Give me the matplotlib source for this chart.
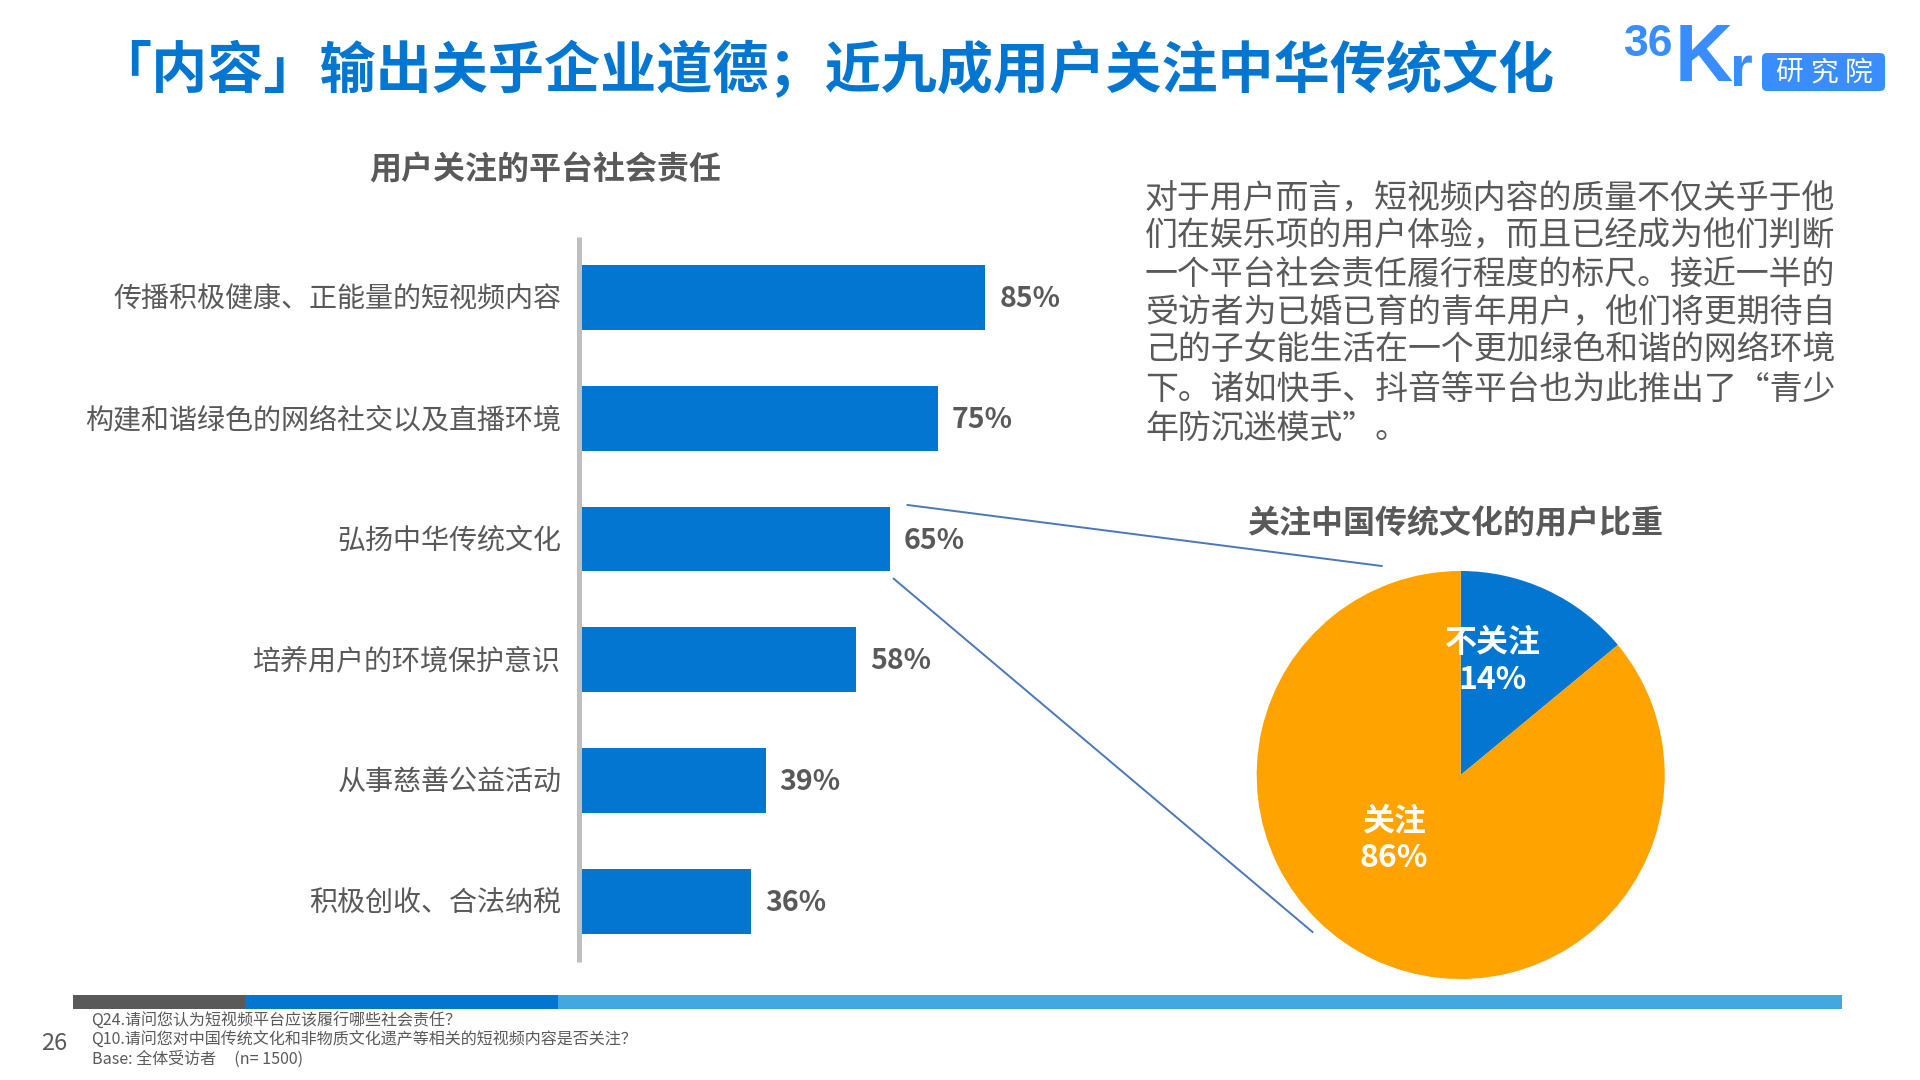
import matplotlib.pyplot as plt
from matplotlib.lines import Line2D
from matplotlib.patches import FancyBboxPatch, Rectangle
from matplotlib.transforms import ScaledTranslation

plt.rcParams['font.family'] = ['Noto Sans CJK SC', 'DejaVu Sans']

W, H = 1920, 1080

# data
categories = ['传播积极健康、正能量的短视频内容', '构建和谐绿色的网络社交以及直播环境', '弘扬中华传统文化',
              '培养用户的环境保护意识', '从事慈善公益活动', '积极创收、合法纳税']
values = [85, 75, 65, 58, 39, 36]

pie_names = ['不关注', '关注']
pie_values = [14, 86]

title = '「内容」输出关乎企业道德\uff1b近九成用户关注中华传统文化'
bar_title = '用户关注的平台社会责任'
pie_title = '关注中国传统文化的用户比重'
paragraph = ['对于用户而言\uff0c短视频内容的质量不仅关乎于他',
             '们在娱乐项的用户体验\uff0c而且已经成为他们判断',
             '一个平台社会责任履行程度的标尺。接近一半的',
             '受访者为已婚已育的青年用户\uff0c他们将更期待自',
             '己的子女能生活在一个更加绿色和谐的网络环境',
             '下。诸如快手、抖音等平台也为此推出了“青少',
             '年防沉迷模式”。']
footnotes = ['Q24.请问您认为短视频平台应该履行哪些社会责任\uff1f',
             'Q10.请问您对中国传统文化和非物质文化遗产等相关的短视频内容是否关注\uff1f',
             'Base: 全体受访者     (n= 1500)']
page_number = '26'
logo_name = '研究院'

BLUE = '#0276D1'
ORANGE = '#FFA300'
GREY = '#595959'
LOGO = '#3A8DFF'
NARROW = ['Liberation Sans Narrow', 'Liberation Sans', 'DejaVu Sans']


def fx(x):
    return x / W


def fy(y):
    return 1 - y / H


def px_axes(left, top, right, bottom):
    return fig.add_axes([fx(left), fy(bottom), (right - left) / W, (bottom - top) / H])


def label(x, y, s, size, color=GREY, ha='center', weight='normal', **kw):
    # va='center' sits about 3px high for these fonts
    return fig.text(fx(x), fy(y + 3), s, fontsize=size, color=color, ha=ha, va='center', fontweight=weight, **kw)


def strip(x0, x1, y0, y1, color):
    fig.add_artist(Rectangle((fx(x0), fy(y1)), (x1 - x0) / W, (y1 - y0) / H, transform=fig.transFigure,
                             facecolor=color, edgecolor='none'))


fig = plt.figure(figsize=(W / 100, H / 100), dpi=100, facecolor='white')

# bar chart
ax = px_axes(579.4, 237, 1057, 961.8)
ax.barh(range(len(values)), values, height=0.538, color=BLUE)
ax.set_xlim(0, 100)
ax.set_ylim(len(values) - 0.5, -0.5)
ax.patch.set_alpha(0)
for side in ['top', 'right', 'bottom']:
    ax.spines[side].set_visible(False)
ax.spines['left'].set_color('#BFBFBF')
ax.spines['left'].set_linewidth(3.6)
ax.spines['left'].set_capstyle('butt')
ax.set_xticks([])
ax.set_yticks(range(len(values)))
ax.set_yticklabels(categories, fontsize=20.2, color=GREY)
ax.tick_params(axis='y', length=0, pad=13)
shift_up = ScaledTranslation(0, 1.5 / 100, fig.dpi_scale_trans)
for t in ax.get_yticklabels():
    t.set_transform(t.get_transform() + shift_up)
for i, v in enumerate(values):
    ax.annotate(f'{v}%', (v, i), xytext=(10, -1.2), textcoords='offset points', va='center', ha='left',
                fontsize=20.5, fontweight='bold', color=GREY)

# pie chart
ax2 = px_axes(1460.7 - 204, 775 - 204, 1460.7 + 204, 775 + 204)
ax2.pie(pie_values, colors=[BLUE, ORANGE], startangle=90, counterclock=False, radius=1,
        wedgeprops={'clip_on': False, 'linewidth': 0})
ax2.set_xlim(-1, 1)
ax2.set_ylim(-1, 1)

label(1492.5, 640, pie_names[0], 23, 'white', weight='bold')
label(1492.5, 677, f'{pie_values[0]}%', 23, 'white', weight='bold')
label(1394, 818, pie_names[1], 23, 'white', weight='bold')
label(1394, 855, f'{pie_values[1]}%', 23, 'white', weight='bold')

# lines from the 65% bar to the pie
for (x0, y0, x1, y1) in [(907.6, 505, 1381.7, 566), (893.7, 578.7, 1312.5, 932)]:
    fig.add_artist(Line2D([fx(x0), fx(x1)], [fy(y0), fy(y1)], color='#4A78B8', linewidth=1.4))

# titles and text
label(95, 68, title, 40.4, BLUE, ha='left', weight='bold')
label(545, 167, bar_title, 23, weight='bold')
label(1455, 521, pie_title, 23, weight='bold')
line_y = [195, 233.3, 271.7, 310, 348.3, 386.7, 426]
for line, y in zip(paragraph, line_y):
    label(1145, y, line, 23.7, ha='left')

# bottom strip
strip(73, 245, 995, 1009, GREY)
strip(245, 558, 995, 1009, BLUE)
strip(558, 1842, 995, 1009, '#43A7E0')

label(54, 1040, page_number, 17)
for line, y in zip(footnotes, [1018.5, 1037.5, 1056.5]):
    label(91.5, y, line, 11.55, ha='left')

# logo
label(1649, 42, '36', 32, LOGO, weight='bold', family=NARROW)
label(1704, 57, 'K', 58, LOGO, weight='bold', family=NARROW)
label(1741, 68, 'r', 42, LOGO, weight='bold', family=NARROW)
fig.add_artist(FancyBboxPatch((1767, H - 86), 113, 28, boxstyle='round,pad=5,rounding_size=5',
                              transform=None, facecolor=LOGO, edgecolor='none'))
for i, ch in enumerate(logo_name):
    label(1789 + i * 35, 69.5, ch, 20, 'white')

fig.savefig('out.png', dpi=100)
